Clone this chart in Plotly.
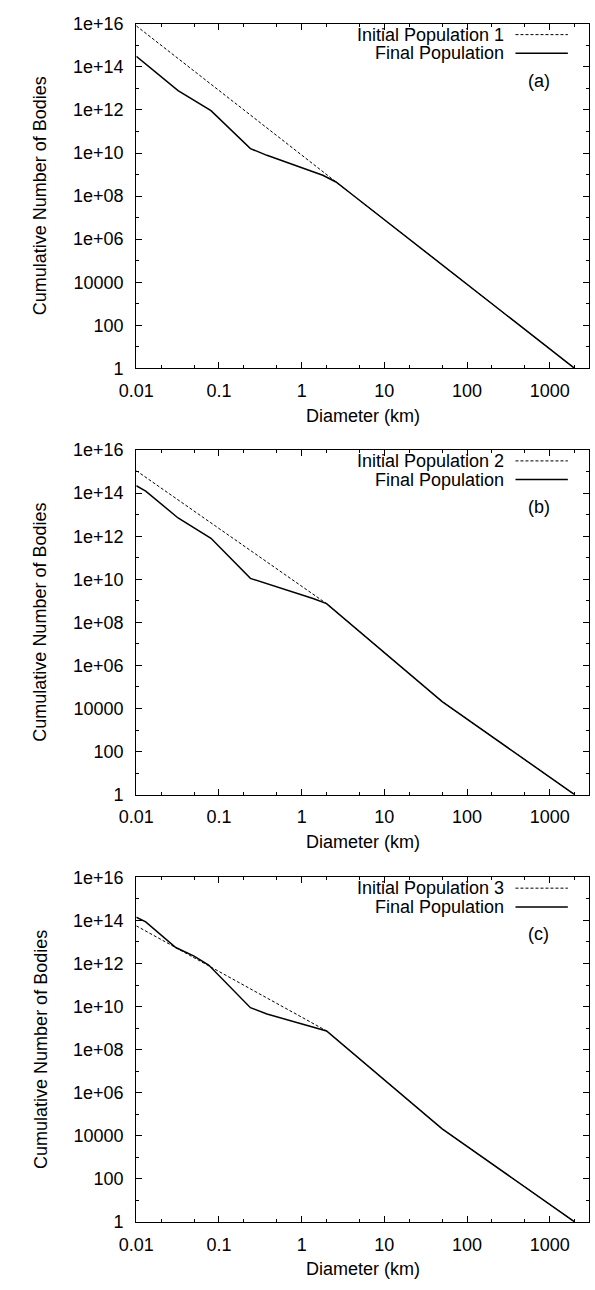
import math
import plotly.graph_objects as go

W, H = 595, 1290

# ---------------- data ----------------
panel_labels = ["(a)", "(b)", "(c)"]
initial_names = ["Initial Population 1", "Initial Population 2", "Initial Population 3"]
final_name = "Final Population"

# Panel (a)
init_a_D = [0.01, 2000]
init_a_N = [8.0e15, 1]
final_a_D = [0.01, 0.032, 0.08, 0.24, 0.38, 0.65, 0.97, 1.2, 1.8, 2.6, 4.0, 2000]
final_a_N = [3.1e14, 7.9e12, 9.3e11, 1.6e10, 7.8e9, 3.8e9, 2.3e9, 1.6e9, 9.3e8, 4.5e8, 1.25e8, 1]

# Panel (b)
init_b_D = [0.01, 2.0, 50, 2000]
init_b_N = [1.1e15, 7.4e8, 2.1e4, 1]
final_b_D = [0.01, 0.013, 0.032, 0.08, 0.24, 0.38, 0.65, 1.0, 1.4, 2.0, 50, 2000]
final_b_N = [2.2e14, 1.25e14, 7.0e12, 8.0e11, 1.1e10, 6.3e9, 3.2e9, 2.0e9, 1.25e9, 7.4e8, 2.1e4, 1]

# Panel (c)
init_c_D = [0.01, 2.0, 50, 2000]
init_c_N = [5.6e13, 7.4e8, 2.1e4, 1]
final_c_D = [0.01, 0.013, 0.03, 0.05, 0.075, 0.24, 0.38, 0.65, 1.0, 1.4, 2.0, 50, 2000]
final_c_N = [1.4e14, 8.5e13, 5.5e12, 2.2e12, 8.5e11, 8.9e9, 4.5e9, 2.5e9, 1.6e9, 1.1e9, 7.4e8, 2.1e4, 1]

x_tick_vals = [0.01, 0.1, 1, 10, 100, 1000]
x_tick_text = ["0.01", "0.1", "1", "10", "100", "1000"]
y_tick_vals = [1, 1e2, 1e4, 1e6, 1e8, 1e10, 1e12, 1e14, 1e16]
y_tick_text = ["1", "100", "10000", "1e+06", "1e+08", "1e+10", "1e+12", "1e+14", "1e+16"]
y_minor_vals = [1e1, 1e3, 1e5, 1e7, 1e9, 1e11, 1e13, 1e15]

x_title = "Diameter (km)"
y_title = "Cumulative Number of Bodies"

# ---------------- layout geometry (pixels) ----------------
left_px, right_px = 122, 589
panels_px = [(14, 364), (447, 797), (881, 1231)]  # (top, bottom)

FONT = "Liberation Sans, Arial, Helvetica, sans-serif"
FS = 18

fig = go.Figure()

inits = [(init_a_D, init_a_N), (init_b_D, init_b_N), (init_c_D, init_c_N)]
finals = [(final_a_D, final_a_N), (final_b_D, final_b_N), (final_c_D, final_c_N)]

for i in range(3):
    xa = "x" if i == 0 else f"x{i+1}"
    ya = "y" if i == 0 else f"y{i+1}"
    fig.add_trace(go.Scatter(x=inits[i][0], y=inits[i][1], mode="lines",
                             line=dict(color="black", width=1.0, dash="3px,2px"),
                             name=initial_names[i], showlegend=False,
                             hoverinfo="skip", xaxis=xa, yaxis=ya))
    fig.add_trace(go.Scatter(x=finals[i][0], y=finals[i][1], mode="lines",
                             line=dict(color="black", width=1.5),
                             name=final_name, showlegend=False,
                             hoverinfo="skip", xaxis=xa, yaxis=ya))

layout = dict(
    width=W, height=H,
    margin=dict(l=0, r=0, t=0, b=0),
    paper_bgcolor="white", plot_bgcolor="white",
    font=dict(family=FONT, size=FS, color="black"),
    showlegend=False,
)

annotations = []
shapes = []
for i, (top, bot) in enumerate(panels_px):
    xk = "xaxis" if i == 0 else f"xaxis{i+1}"
    yk = "yaxis" if i == 0 else f"yaxis{i+1}"
    ya_ref = "y" if i == 0 else f"y{i+1}"
    xa_ref = "x" if i == 0 else f"x{i+1}"
    layout[xk] = dict(
        type="log", range=[-2, math.log10(3000)],
        domain=[left_px / W, right_px / W],
        anchor=ya_ref,
        showline=True, linecolor="black", linewidth=1.2, mirror="allticks",
        ticks="inside", ticklen=6, tickwidth=1, tickcolor="black",
        tickvals=x_tick_vals, ticktext=x_tick_text,
        tickfont=dict(family=FONT, size=FS, color="black"),
        ticklabelstandoff=6,
        showgrid=False, zeroline=False, fixedrange=True,
        minor=dict(ticks="inside", ticklen=3, tickwidth=1, tickcolor="black",
                   dtick="D2", showgrid=False),
    )
    layout[yk] = dict(
        type="log", range=[0, 16],
        domain=[1 - bot / H, 1 - top / H],
        anchor=xa_ref,
        showline=True, linecolor="black", linewidth=1.2, mirror="allticks",
        ticks="inside", ticklen=6, tickwidth=1, tickcolor="black",
        tickvals=y_tick_vals, ticktext=y_tick_text,
        tickfont=dict(family=FONT, size=FS, color="black"),
        ticklabelstandoff=8,
        showgrid=False, zeroline=False, fixedrange=True,
        minor=dict(ticks="inside", ticklen=3, tickwidth=1, tickcolor="black",
                   tickvals=y_minor_vals, showgrid=False),
    )
    # axis titles
    annotations.append(dict(text=x_title, x=(left_px + right_px) / 2 / W,
                            y=1 - (bot + 48) / H, xref="paper", yref="paper",
                            showarrow=False, xanchor="center", yanchor="middle",
                            font=dict(family=FONT, size=FS)))
    annotations.append(dict(text=y_title, x=23 / W, y=1 - (top + bot) / 2 / H,
                            xref="paper", yref="paper", textangle=-90,
                            showarrow=False, xanchor="center", yanchor="middle",
                            font=dict(family=FONT, size=FS)))
    # legend (gnuplot style: text then line sample)
    for j, (name, dash, lw) in enumerate([(initial_names[i], "3px,2px", 1.0),
                                          (final_name, "solid", 1.5)]):
        ypx = top + 11 + 19 * j
        annotations.append(dict(text=name, x=503 / W, y=1 - ypx / H,
                                xref="paper", yref="paper", showarrow=False,
                                xanchor="right", yanchor="middle",
                                font=dict(family=FONT, size=FS)))
        shapes.append(dict(type="line", xref="paper", yref="paper",
                           x0=513 / W, x1=567 / W, y0=1 - ypx / H, y1=1 - ypx / H,
                           line=dict(color="black", width=lw, dash=dash)))
    annotations.append(dict(text=panel_labels[i], x=537 / W, y=1 - (top + 58) / H,
                            xref="paper", yref="paper", showarrow=False,
                            xanchor="center", yanchor="middle",
                            font=dict(family=FONT, size=FS)))

layout["annotations"] = annotations
layout["shapes"] = shapes
fig.update_layout(**layout)
fig.write_html("out.html",
               config={"displayModeBar": False},
               post_script="document.body.style.margin='0';"
                           "document.documentElement.style.overflow='hidden';")
